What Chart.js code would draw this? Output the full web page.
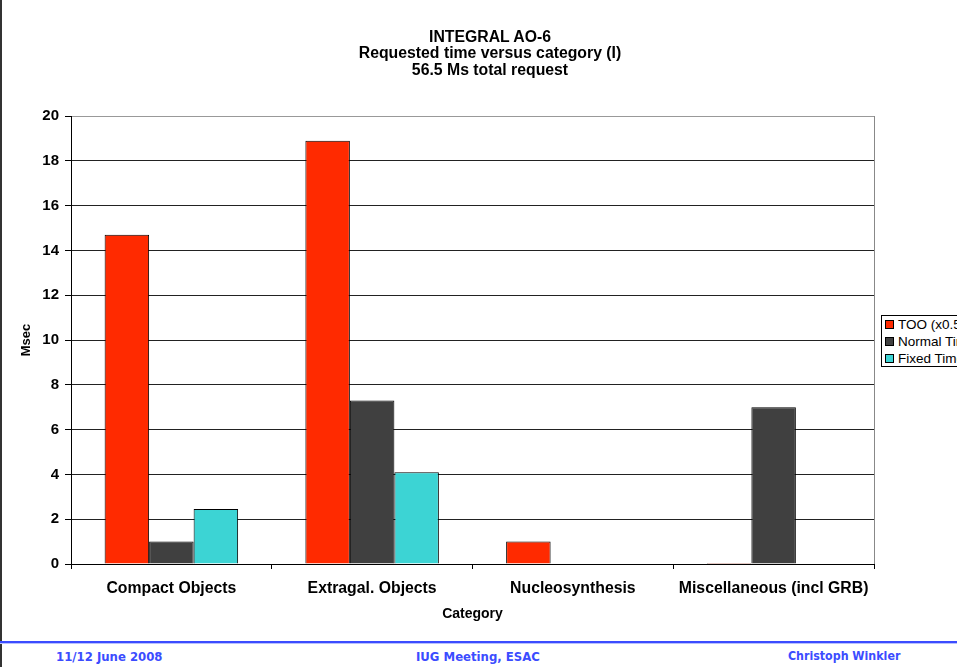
<!DOCTYPE html>
<html>
<head>
<meta charset="utf-8">
<script src="https://cdn.jsdelivr.net/npm/chart.js@4"></script>
<style>
  html, body { margin: 0; padding: 0; background: #fff; overflow: hidden; }
  body { width: 957px; height: 667px; position: relative; }
  #edge { position: absolute; left: 0; top: 0; width: 2px; height: 667px; background: #333; }
  #wrap { position: absolute; left: 0; top: 0; width: 957px; height: 630px; }
  #title { position: absolute; left: 290px; width: 400px; top: 29px; text-align: center;
           font: bold 15.8px "Liberation Sans", Arial, sans-serif; line-height: 16.3px; color: #000; }
  #legend { position: absolute; left: 881px; top: 315px; width: 130px; height: 50px;
            border: 1px solid #000; background: #fff; font: 13.5px "Liberation Sans", Arial, sans-serif; }
  #legend div { height: 17px; line-height: 17px; white-space: nowrap; padding-left: 3px; }
  #legend span { display: inline-block; width: 7px; height: 7px; border: 1px solid #000; margin-right: 4px; vertical-align: 0px; }
  #rule { position: absolute; left: 0; top: 641px; width: 957px; height: 2px; background: #3b4cff; }
  #rule2 { position: absolute; left: 0; top: 643px; width: 957px; height: 1px; background: #b8c0ff; }
  .foot { position: absolute; top: 649px; font: bold 13px "Liberation Sans Narrow", "DejaVu Sans Condensed", sans-serif;
          color: #3b4cff; white-space: nowrap; }
</style>
</head>
<body>
<div id="edge"></div>
<div id="wrap"><canvas id="dataChart" width="957" height="630"></canvas></div>
<div id="title"></div>
<div id="legend"></div>
<div id="rule"></div><div id="rule2"></div>
<div class="foot" style="left:56px">11/12 June 2008</div>
<div class="foot" style="left:416px">IUG Meeting, ESAC</div>
<div class="foot" style="left:788px; font-size:12.3px">Christoph Winkler</div>
<script>
// data
var titleLines = ["INTEGRAL AO-6", "Requested time versus category (I)", "56.5 Ms total request"];
var categories = ["Compact Objects", "Extragal. Objects", "Nucleosynthesis", "Miscellaneous (incl GRB)"];
var seriesNames = ["TOO (x0.5)", "Normal Time", "Fixed Time"];
var tooData = [14.7, 18.9, 1.0, 0.05];
var normalData = [1.0, 7.3, 0, 7.0];
var fixedData = [2.45, 4.1, 0, 0];
var seriesColors = ["#ff2a00", "#404040", "#3cd4d4"];
var yTicks = [0, 2, 4, 6, 8, 10, 12, 14, 16, 18, 20];

document.getElementById("title").innerHTML = titleLines.join("<br>");

// legend (clipped at right edge like the original)
var legend = document.getElementById("legend");
for (var i = 0; i < seriesNames.length; i++) {
    var row = document.createElement("div");
    var sw = document.createElement("span");
    sw.style.background = seriesColors[i];
    row.appendChild(sw);
    row.appendChild(document.createTextNode(seriesNames[i]));
    legend.appendChild(row);
}

var fam = "'Liberation Sans', Arial, sans-serif";

// gray plot border on right side
var rightBorder = {
    id: "rightBorder",
    beforeDatasetsDraw: function (chart) {
        var a = chart.chartArea, ctx = chart.ctx;
        ctx.save();
        ctx.strokeStyle = "#888";
        ctx.lineWidth = 1;
        ctx.beginPath();
        ctx.moveTo(a.right + 0.5, a.top);
        ctx.lineTo(a.right + 0.5, a.bottom);
        ctx.stroke();
        ctx.restore();
    }
};

var ctx = document.getElementById("dataChart").getContext("2d");
var dataChart = new Chart(ctx, {
    type: "bar",
    data: {
        labels: categories,
        datasets: [
            { label: seriesNames[0], data: tooData, backgroundColor: seriesColors[0] },
            { label: seriesNames[1], data: normalData, backgroundColor: seriesColors[1] },
            { label: seriesNames[2], data: fixedData, backgroundColor: seriesColors[2] }
        ]
    },
    options: {
        responsive: false,
        animation: false,
        layout: { padding: { left: 0, right: 83, top: 116, bottom: 0 } },
        datasets: {
            bar: {
                borderColor: "#000",
                borderWidth: 1,
                categoryPercentage: 0.665,
                barPercentage: 1
            }
        },
        plugins: {
            legend: { display: false },
            tooltip: { enabled: false }
        },
        scales: {
            x: {
                offset: true,
                grid: { offset: true, drawOnChartArea: false, drawTicks: true, tickLength: 5, color: "#000" },
                border: { color: "#000" },
                ticks: { color: "#000", font: { family: fam, size: 15.8, weight: "bold" }, padding: 10, maxRotation: 0 },
                title: { display: true, text: "Category", color: "#000",
                         font: { family: fam, size: 14, weight: "bold" },
                         padding: { top: 4, bottom: 7 } },
                afterFit: function (scale) { scale.height = 66; }
            },
            y: {
                min: 0,
                max: 20,
                afterBuildTicks: function (scale) {
                    scale.ticks = yTicks.map(function (v) { return { value: v }; });
                },
                grid: {
                    color: function (c) { return c.tick && c.tick.value === 20 ? "#999" : "#222"; },
                    tickColor: "#000",
                    tickLength: 6
                },
                border: { color: "#000" },
                ticks: { color: "#000", font: { family: fam, size: 15, weight: "bold" }, padding: 6 },
                title: { display: true, text: "Msec", color: "#000",
                         font: { family: fam, size: 13, weight: "bold" },
                         padding: { top: 19, bottom: 0 } },
                afterFit: function (scale) { scale.width = 71; }
            }
        }
    },
    plugins: [rightBorder]
});
</script>
</body>
</html>
